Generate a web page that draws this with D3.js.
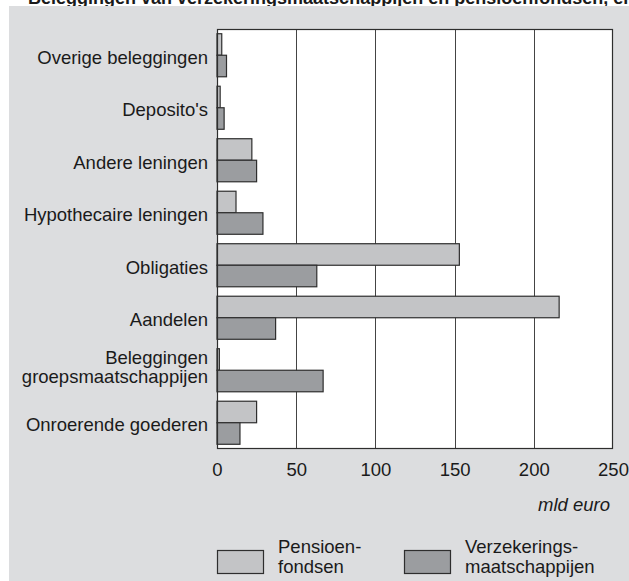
<!DOCTYPE html>
<html>
<head>
<meta charset="utf-8">
<script src="https://cdn.jsdelivr.net/npm/d3@7"></script>
<style>
  html, body { margin: 0; padding: 0; background: #fff; }
  svg { display: block; }
  text { font-family: "Liberation Sans", Arial, sans-serif; fill: #1a1a1a; }
</style>
</head>
<body>
<script>
const categories = [
  "Overige beleggingen",
  "Deposito's",
  "Andere leningen",
  "Hypothecaire leningen",
  "Obligaties",
  "Aandelen",
  "Beleggingen\ngroepsmaatschappijen",
  "Onroerende goederen"
];
const seriesNames = ["Pensioen-\nfondsen", "Verzekerings-\nmaatschappijen"];
const pensioenfondsen = [3, 2, 22, 12, 153, 216, 1.5, 25];
const verzekeraars = [6, 4.5, 25, 29, 63, 37, 67, 14.5];
const xTicks = [0, 50, 100, 150, 200, 250];
const title = "Beleggingen van verzekeringsmaatschappijen en pensioenfondsen, eind 2006";

const W = 629, H = 581;
const colors = ["#c3c4c6", "#9b9da0"];
const plot = { left: 217, top: 29, right: 613, bottom: 449 };
const FS = 18.5;

const svg = d3.select("body").append("svg").attr("width", W).attr("height", H);

// cut-off title at top
svg.append("text").attr("x", 28).attr("y", 3.5)
  .attr("font-size", 18).attr("font-weight", "bold").text(title);

// gray panel
svg.append("rect").attr("x", 9).attr("y", 6).attr("width", W - 9).attr("height", H - 6)
  .attr("fill", "#dcdddf");

const x = d3.scaleLinear().domain([0, 250]).range([plot.left, plot.right]);
const y0 = d3.scaleBand().domain(categories).range([plot.top, plot.bottom])
  .paddingInner(0.18).paddingOuter(0.09);
const y1 = d3.scaleBand().domain([0, 1]).range([0, y0.bandwidth()]);

// plot background
svg.append("rect").attr("x", plot.left).attr("y", plot.top)
  .attr("width", plot.right - plot.left).attr("height", plot.bottom - plot.top)
  .attr("fill", "#fff");

// grid lines
svg.append("g").selectAll("line").data(xTicks.slice(1, -1)).join("line")
  .attr("x1", d => Math.round(x(d)) + 0.5).attr("x2", d => Math.round(x(d)) + 0.5)
  .attr("y1", plot.top).attr("y2", plot.bottom)
  .attr("stroke", "#444").attr("stroke-width", 1);

// bars
const data = categories.map((c, i) => ({ c, vals: [pensioenfondsen[i], verzekeraars[i]] }));
const g = svg.append("g").selectAll("g").data(data).join("g")
  .attr("transform", d => `translate(0,${y0(d.c)})`);
g.selectAll("rect").data(d => d.vals.map((v, k) => ({ v, k }))).join("rect")
  .attr("x", x(0))
  .attr("y", d => y1(d.k))
  .attr("width", d => x(d.v) - x(0))
  .attr("height", y1.bandwidth())
  .attr("fill", d => colors[d.k])
  .attr("stroke", "#2e2e2e").attr("stroke-width", 1.2);

// plot border
svg.append("rect").attr("x", plot.left + 0.5).attr("y", plot.top + 0.5)
  .attr("width", plot.right - plot.left - 1).attr("height", plot.bottom - plot.top - 1)
  .attr("fill", "none").attr("stroke", "#2e2e2e").attr("stroke-width", 1.2);

// category labels
categories.forEach(c => {
  const cy = y0(c) + y0.bandwidth() / 2;
  const lines = c.split("\n");
  const t = svg.append("text").attr("text-anchor", "end").attr("font-size", FS);
  if (lines.length === 1) {
    t.append("tspan").attr("x", 208).attr("y", cy + 8.5).text(lines[0]);
  } else {
    t.append("tspan").attr("x", 208).attr("y", cy - 6).text(lines[0]);
    t.append("tspan").attr("x", 208).attr("y", cy + 13).text(lines[1]);
  }
});

// x axis
const axis = d3.axisBottom(x).tickValues(xTicks).tickSize(0).tickPadding(14);
const ax = svg.append("g").attr("transform", `translate(0,${plot.bottom})`).call(axis);
ax.select(".domain").remove();
ax.selectAll("text").attr("font-size", FS).attr("font-family", "Liberation Sans, Arial, sans-serif")
  .attr("fill", "#1a1a1a");

svg.append("text").attr("x", 610).attr("y", 511).attr("text-anchor", "end")
  .attr("font-size", FS).attr("font-style", "italic").text("mld euro");

// legend
const legX = [217, 404];
seriesNames.forEach((s, k) => {
  svg.append("rect").attr("x", legX[k] + 0.5).attr("y", 550.5).attr("width", 46).attr("height", 23)
    .attr("fill", colors[k]).attr("stroke", "#2e2e2e").attr("stroke-width", 1.2);
  const parts = s.split("\n");
  const t = svg.append("text").attr("font-size", FS);
  parts.forEach((p, j) => t.append("tspan").attr("x", legX[k] + 61).attr("y", 553 + j * 20).text(p));
});
</script>
</body>
</html>
